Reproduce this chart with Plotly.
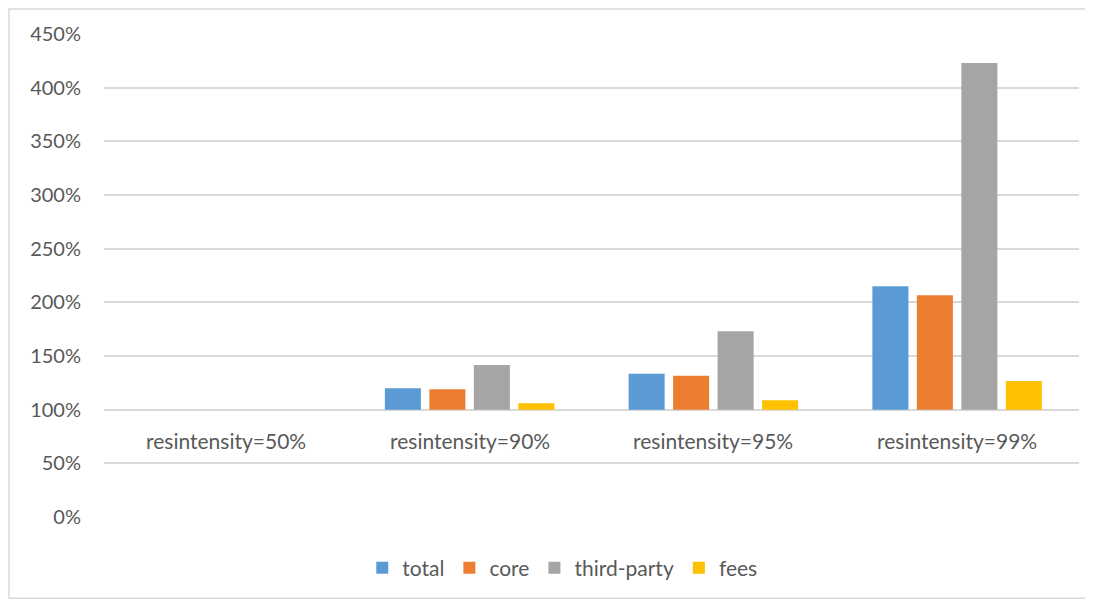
import plotly.graph_objects as go

categories = ["resintensity=50%", "resintensity=90%", "resintensity=95%", "resintensity=99%"]
series_names = ["total", "core", "third-party", "fees"]
total = [1.00, 1.20, 1.335, 2.15]
core = [1.00, 1.19, 1.317, 2.065]
third_party = [1.00, 1.416, 1.73, 4.23]
fees = [1.00, 1.059, 1.087, 1.267]
colors = ["#5b9bd5", "#ed7d31", "#a5a5a5", "#ffc000"]
base_value = 1.0
y_ticks = [0, 0.5, 1.0, 1.5, 2.0, 2.5, 3.0, 3.5, 4.0, 4.5]

font_family = "Lato, 'Open Sans', sans-serif"
text_color = "#595959"

fig = go.Figure()
for name, vals, col in zip(series_names, [total, core, third_party, fees], colors):
    fig.add_trace(go.Bar(
        x=categories,
        y=[v - base_value for v in vals],
        base=base_value,
        name=name,
        marker=dict(color=col, line=dict(width=0)),
    ))

for c in categories:
    fig.add_annotation(x=c, y=base_value, xref="x", yref="y", text=c, showarrow=False,
                       yanchor="top", yshift=-16,
                       font=dict(family=font_family, size=21, color=text_color))

# outer chart border (figure is offset by the page's 8px body margin)
fig.add_shape(type="rect", xref="paper", yref="paper", x0=-0.0974, x1=1.0113, y0=-0.168, y1=1.052,
              line=dict(color="#d9d9d9", width=1.5), fillcolor="rgba(0,0,0,0)", layer="below")

fig.update_layout(
    width=1085, height=595,
    margin=dict(l=96, r=14, t=26, b=86),
    paper_bgcolor="white", plot_bgcolor="white",
    barmode="group", bargap=0.27, bargroupgap=0.19,
    font=dict(family=font_family, size=21, color=text_color),
    showlegend=True,
    legend=dict(orientation="h", x=0.47, xanchor="center", y=-0.106, yanchor="middle",
                font=dict(family=font_family, size=21, color=text_color),
                itemwidth=30, traceorder="normal"),
    xaxis=dict(showticklabels=False, showgrid=False, zeroline=False, showline=False, ticks=""),
    yaxis=dict(range=[0, 4.5], tickvals=y_ticks, tickformat=".0%", showgrid=True,
               gridcolor="#d9d9d9", gridwidth=1.5, zeroline=False, showline=False,
               ticks="", ticklabelstandoff=22,
               tickfont=dict(family=font_family, size=20, color=text_color)),
)

fig.write_html("out.html")
